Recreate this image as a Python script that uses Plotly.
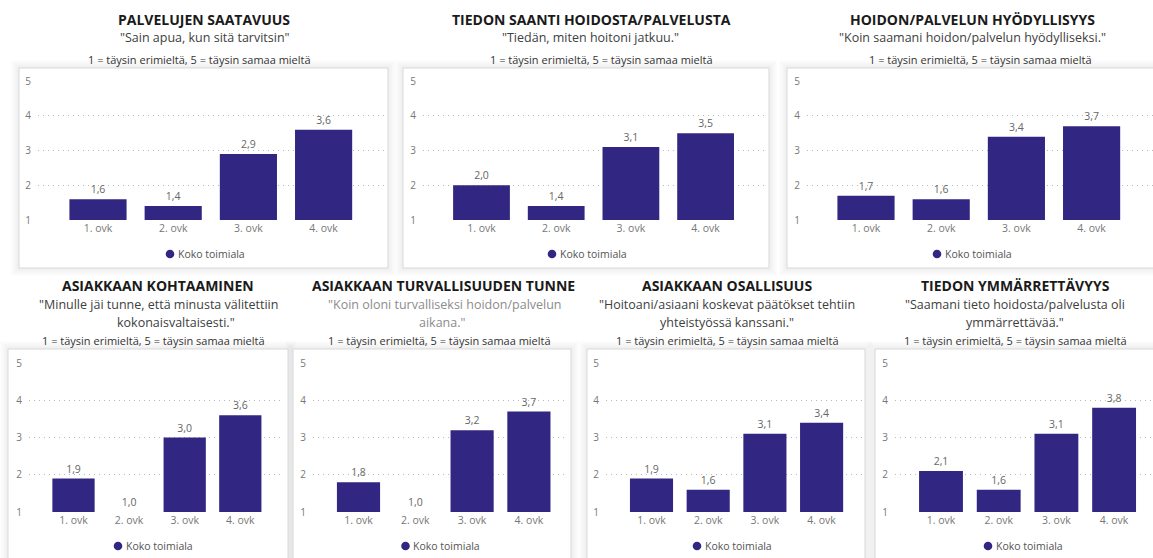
import plotly.graph_objects as go

# ---------------- data ----------------
categories = ["1. ovk", "2. ovk", "3. ovk", "4. ovk"]
y_ticks = [1, 2, 3, 4, 5]
legend_name = "Koko toimiala"
scale_note = "1 = täysin erimieltä, 5 = täysin samaa mieltä"

titles = [
    "PALVELUJEN SAATAVUUS",
    "TIEDON SAANTI HOIDOSTA/PALVELUSTA",
    "HOIDON/PALVELUN HYÖDYLLISYYS",
    "ASIAKKAAN KOHTAAMINEN",
    "ASIAKKAAN TURVALLISUUDEN TUNNE",
    "ASIAKKAAN OSALLISUUS",
    "TIEDON YMMÄRRETTÄVYYS",
]
quotes = [
    ['"Sain apua, kun sitä tarvitsin"'],
    ['"Tiedän, miten hoitoni jatkuu."'],
    ['"Koin saamani hoidon/palvelun hyödylliseksi."'],
    ['"Minulle jäi tunne, että minusta välitettiin', 'kokonaisvaltaisesti."'],
    ['"Koin oloni turvalliseksi hoidon/palvelun', 'aikana."'],
    ['"Hoitoani/asiaani koskevat päätökset tehtiin', 'yhteistyössä kanssani."'],
    ['"Saamani tieto hoidosta/palvelusta oli', 'ymmärrettävää."'],
]

values_saatavuus = [1.6, 1.4, 2.9, 3.6]
values_tiedon_saanti = [2.0, 1.4, 3.1, 3.5]
values_hyodyllisyys = [1.7, 1.6, 3.4, 3.7]
values_kohtaaminen = [1.9, 1.0, 3.0, 3.6]
values_turvallisuus = [1.8, 1.0, 3.2, 3.7]
values_osallisuus = [1.9, 1.6, 3.1, 3.4]
values_ymmarrettavyys = [2.1, 1.6, 3.1, 3.8]

series = [values_saatavuus, values_tiedon_saanti, values_hyodyllisyys,
          values_kohtaaminen, values_turvallisuus, values_osallisuus,
          values_ymmarrettavyys]

# ---------------- layout (pixels) ----------------
W, H = 1153, 558
FONT = "Open Sans"
BAR = "#312782"

# plot area: first-category centre, category spacing, left, right, top, bottom
plots = [
    (98.0, 75.2, 38, 384, 81, 220),
    (481.5, 74.7, 423, 764, 81, 220),
    (866.0, 75.2, 807, 1153, 81, 220),
    (73.5, 55.6, 29, 283, 363, 512),
    (358.5, 56.8, 313, 566, 363, 512),
    (651.5, 56.7, 606, 862, 363, 512),
    (941.0, 57.7, 895, 1153, 363, 512),
]
# panel boxes: x0, x1, y0, y1
boxes = [
    (19, 388, 68, 268),
    (403, 769, 68, 268),
    (787, 1165, 68, 268),
    (8, 288, 349, 600),
    (293, 571, 349, 600),
    (587, 865, 349, 600),
    (875, 1165, 349, 600),
]
# text centres: title x, quote line x's, note x ; legend circle centre x
text_pos = [
    (204, [205], 199, 170),
    (591, [590], 601, 552),
    (972, [972], 980, 937),
    (158, [158, 176], 153, 118),
    (443, [445, 442], 439, 405.5),
    (727, [727, 727], 727, 697),
    (1015, [1015, 1015], 1015, 988),
]
quote_colors = ["#404040", "#404040", "#404040", "#404040", "#8c8c8c", "#404040", "#404040"]


def px(x):
    return x / W


def py(y):
    return 1 - y / H


fig = go.Figure()
annotations = []
shapes = []

# soft glow around all panels (drawn first, below everything)
for x0, x1, y0, y1 in boxes:
    for k in range(8, 0, -1):
        shapes.append(dict(type="rect", xref="paper", yref="paper",
                           x0=px(x0 - k), x1=px(x1 + k), y0=py(y1 + k), y1=py(y0 - k),
                           line=dict(width=0), fillcolor="rgba(0,0,0,0.009)",
                           layer="below"))

for i, vals in enumerate(series):
    c0, s, left, right, top, bottom = plots[i]
    xa = "x" if i == 0 else f"x{i+1}"
    ya = "y" if i == 0 else f"y{i+1}"
    fig.add_trace(go.Bar(
        x=categories, y=vals, xaxis=xa, yaxis=ya,
        marker=dict(color=BAR, line=dict(width=0)),
        width=0.76,
        text=vals, texttemplate="%{y:.1f}", textposition="outside",
        textfont=dict(family=FONT, size=10.5, color="#666666"),
        cliponaxis=False,
        showlegend=False, name=legend_name,
        hovertemplate="%{x}: %{y:.1f}<extra></extra>",
    ))
    xkey = "xaxis" if i == 0 else f"xaxis{i+1}"
    ykey = "yaxis" if i == 0 else f"yaxis{i+1}"
    fig.update_layout(**{
        xkey: dict(
            domain=[max(0, px(left)), min(1, px(right))],
            range=[(left - c0) / s, (right - c0) / s],
            anchor=ya, showgrid=False, showline=False, zeroline=False,
            ticks="", tickfont=dict(family=FONT, size=10.5, color="#777777"),
            fixedrange=True, automargin=False,
        ),
        ykey: dict(
            domain=[py(bottom), py(top)],
            range=[1, 5.005], anchor=xa,
            tickvals=y_ticks, ticktext=[str(t) for t in y_ticks],
            showgrid=True, gridcolor="#b8b8b8", griddash="1px,4px", gridwidth=1,
            zeroline=False, showline=False, ticks="",
            tickfont=dict(family=FONT, size=10, color="#777777"),
            ticklabelstandoff=6, fixedrange=True, automargin=False,
        ),
    })

    # panel box
    x0, x1, y0, y1 = boxes[i]
    shapes.append(dict(type="rect", xref="paper", yref="paper",
                       x0=px(x0), x1=px(x1), y0=py(y1), y1=py(y0),
                       line=dict(color="#d9d9d9", width=1),
                       fillcolor="white", layer="below"))

    tx, qxs, nx, lx = text_pos[i]
    if i < 3:
        ty, qys, ny = 19, [37], 59
    else:
        ty, qys, ny = 285, [304, 322], 340
    annotations.append(dict(text=f"<b>{titles[i]}</b>", x=px(tx), y=py(ty),
                            xref="paper", yref="paper", showarrow=False,
                            xanchor="center", yanchor="middle",
                            font=dict(family=FONT, size=14, color="#1a1a1a")))
    for line, qx, qy in zip(quotes[i], qxs, qys):
        annotations.append(dict(text=line, x=px(qx), y=py(qy),
                                xref="paper", yref="paper", showarrow=False,
                                xanchor="center", yanchor="middle",
                                font=dict(family=FONT, size=12.5, color=quote_colors[i])))
    annotations.append(dict(text=scale_note, x=px(nx), y=py(ny),
                            xref="paper", yref="paper", showarrow=False,
                            xanchor="center", yanchor="middle",
                            font=dict(family=FONT, size=11, color="#333333")))
    ly = 254 if i < 3 else 546
    r = 4.3
    shapes.append(dict(type="circle", xref="paper", yref="paper",
                       x0=px(lx - r), x1=px(lx + r), y0=py(ly + r), y1=py(ly - r),
                       fillcolor=BAR, line=dict(width=0)))
    annotations.append(dict(
        text=legend_name, x=px(lx + r + 1.5), y=py(ly), xref="paper", yref="paper",
        showarrow=False, xanchor="left", yanchor="middle",
        font=dict(family=FONT, size=10.5, color="#555555")))

fig.update_layout(
    width=W, height=H,
    margin=dict(l=0, r=0, t=0, b=0, pad=0, autoexpand=False),
    paper_bgcolor="white", plot_bgcolor="rgba(0,0,0,0)",
    separators=",.",
    annotations=annotations, shapes=shapes,
)

fig.write_html("out.html",
               config={"displayModeBar": False},
               post_script="document.body.style.margin='0';document.body.style.overflow='hidden';")
